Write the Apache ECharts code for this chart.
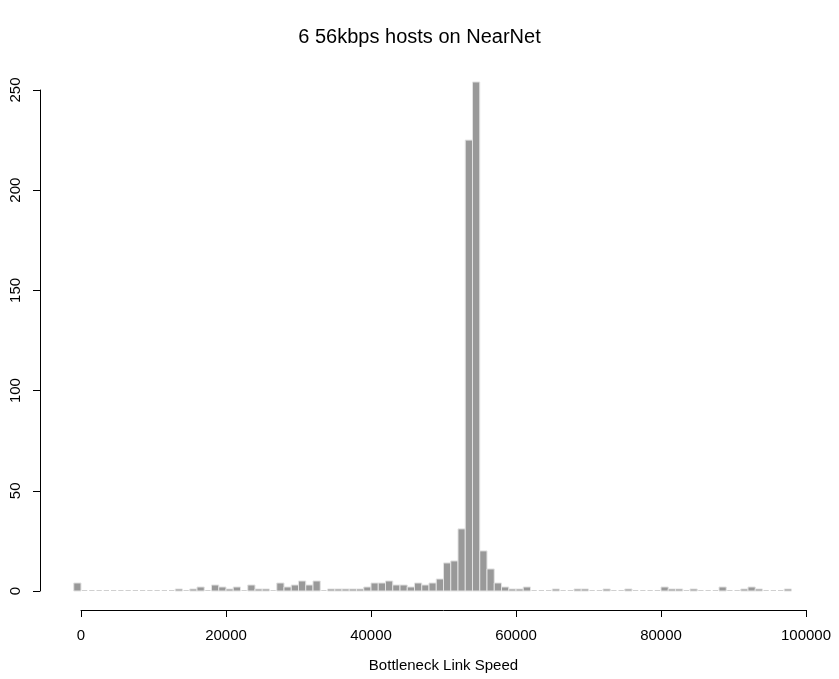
<!DOCTYPE html>
<html>
<head>
<meta charset="utf-8">
<script src="https://cdn.jsdelivr.net/npm/echarts@6/dist/echarts.min.js"></script>
<style>
html,body{margin:0;padding:0;background:#fff;}
#chart{width:839px;height:679px;}
</style>
</head>
<body>
<div id="chart"></div>
<script>
// Histogram bins: left edges (bin width 1000) and counts
var binLefts = [
  -1000, 0, 1000, 2000, 3000, 4000, 5000, 6000, 7000, 8000, 9000,
  10000, 11000, 12000, 13000, 14000, 15000, 16000, 17000, 18000, 19000,
  20000, 21000, 22000, 23000, 24000, 25000, 26000, 27000, 28000, 29000,
  30000, 31000, 32000, 33000, 34000, 35000, 36000, 37000, 38000, 39000,
  40000, 41000, 42000, 43000, 44000, 45000, 46000, 47000, 48000, 49000,
  50000, 51000, 52000, 53000, 54000, 55000, 56000, 57000, 58000, 59000,
  60000, 61000, 62000, 63000, 64000, 65000, 66000, 67000, 68000, 69000,
  70000, 71000, 72000, 73000, 74000, 75000, 76000, 77000, 78000, 79000,
  80000, 81000, 82000, 83000, 84000, 85000, 86000, 87000, 88000, 89000,
  90000, 91000, 92000, 93000, 94000, 95000, 96000, 97000
];
var binWidth = 1000;
var counts = [
  4, 0, 0, 0, 0, 0, 0, 0, 0, 0, 0,
  0, 0, 0, 1, 0, 1, 2, 0, 3, 2,
  1, 2, 0, 3, 1, 1, 0, 4, 2, 3,
  5, 3, 5, 0, 1, 1, 1, 1, 1, 2,
  4, 4, 5, 3, 3, 2, 4, 3, 4, 6,
  14, 15, 31, 225, 254, 20, 11, 4, 2, 1,
  1, 2, 0, 0, 0, 1, 0, 0, 1, 1,
  0, 0, 1, 0, 0, 1, 0, 0, 0, 0,
  2, 1, 1, 0, 1, 0, 0, 0, 2, 0,
  0, 1, 2, 1, 0, 0, 0, 1
];
var xTicks = [0, 20000, 40000, 60000, 80000, 100000];
var yTicks = [0, 50, 100, 150, 200, 250];
var titleText = '6 56kbps hosts on NearNet';
var xLabel = 'Bottleneck Link Speed';

var data = binLefts.map(function (l, i) { return [l, l + binWidth, counts[i]]; });

var FONT = 'Liberation Sans, Arial, Helvetica, sans-serif';
var chart = echarts.init(document.getElementById('chart'), null, {renderer: 'canvas'});
chart.setOption({
  animation: false,
  backgroundColor: '#ffffff',
  title: {
    text: titleText,
    left: 'center',
    top: 22,
    textStyle: {fontFamily: FONT, fontSize: 20, fontWeight: 'normal', color: '#000'}
  },
  grid: {left: 81, right: 33, top: 90, bottom: 88, containLabel: false, outerBoundsMode: 'none'},
  xAxis: {
    type: 'value',
    min: xTicks[0], max: xTicks[xTicks.length - 1], interval: 20000,
    offset: 19,
    name: xLabel, nameLocation: 'middle', nameGap: 48, nameMoveOverlap: false,
    nameTextStyle: {fontFamily: FONT, fontSize: 15, color: '#000'},
    axisLine: {show: true, onZero: false, lineStyle: {color: '#000', width: 1}},
    axisTick: {show: true, length: 7, lineStyle: {color: '#000', width: 1}},
    axisLabel: {fontFamily: FONT, fontSize: 15, color: '#000', margin: 18, showMinLabel: true, showMaxLabel: true,
      formatter: function (v) { return String(v); }},
    splitLine: {show: false}
  },
  yAxis: {
    type: 'value',
    min: yTicks[0], max: yTicks[yTicks.length - 1], interval: 50,
    offset: 41,
    axisLine: {show: true, onZero: false, lineStyle: {color: '#000', width: 1}},
    axisTick: {show: true, length: 7, lineStyle: {color: '#000', width: 1}},
    axisLabel: {fontFamily: FONT, fontSize: 15, color: '#000', rotate: 90, margin: 17,
      formatter: function (v) { return String(v); }},
    splitLine: {show: false}
  },
  series: [{
    type: 'custom',
    clip: false,
    data: data,
    renderItem: function (params, api) {
      var x0 = api.value(0), x1 = api.value(1), v = api.value(2);
      var p0 = api.coord([x0, 0]);
      var p1 = api.coord([x1, v]);
      if (v === 0) {
        return {
          type: 'line',
          shape: {x1: p0[0] + 1, y1: p0[1] - 0.5, x2: p1[0] - 1, y2: p0[1] - 0.5},
          style: {stroke: '#d0d0d0', lineWidth: 1}
        };
      }
      return {
        type: 'rect',
        shape: {x: p0[0], y: p1[1], width: p1[0] - p0[0], height: p0[1] - p1[1]},
        style: {fill: '#999999', stroke: '#e2e2e2', lineWidth: 1}
      };
    }
  }]
});
</script>
</body>
</html>
